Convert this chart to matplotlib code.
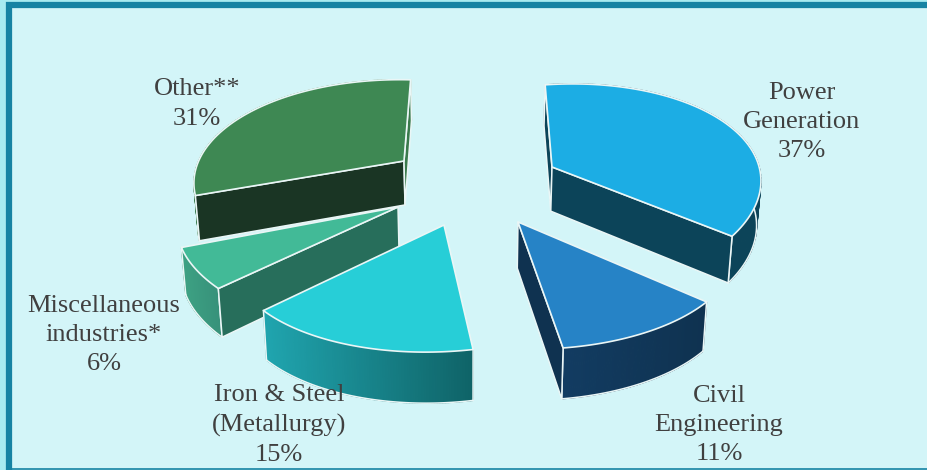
import matplotlib
matplotlib.use("Agg")
import matplotlib.pyplot as plt
from matplotlib.colors import to_rgb
from matplotlib.patches import Polygon, Rectangle
import numpy as np

# clockwise from 12 o'clock
labels = ["Power\nGeneration\n37%", "Civil\nEngineering\n11%", "Iron & Steel\n(Metallurgy)\n15%",
          "Miscellaneous\nindustries*\n6%", "Other**\n31%"]
shares = [37, 11, 15, 6, 31]

top_colors = ["#1CADE4", "#2683C6", "#27CED7", "#42BA97", "#3E8853"]
start_colors = ["#0C4459", "#0F3250", "#10656A", "#276E5B", "#1A3524"]
end_colors = ["#0C4459", "#0F3250", "#10656A", "#276E5B", "#3A7A4C"]
arc_left = ["#0C4459", "#123C62", "#20A5AF", "#3DA183", "#3A7A4C"]
arc_right = ["#0C4459", "#0F3250", "#0F6367", "#37917A", "#3A7A4C"]

# per wedge layout, pixels: apex, scale, extra x scale, y tilt, x shear
apex = [(552, 167), (518, 222), (444, 225), (398, 207), (404, 161)]
scale = [1.02, 1.0, 1.0, 1.02, 1.0]
x_scale = [0.955, 1.02, 1.0, 1.03, 0.98]
tilt = [-0.065, 0.0, -0.033, 0.0, 0.025]
shear = [0.0, 0.0, -0.12, 0.0, -0.17]
text_pos = [(802, 122), (719, 425), (279, 425), (104, 335), (197, 104)]

EDGE = "#EAF6F6"
BG = "#D3F5F8"
FRAME = "#1683A3"


def project(t, i):
    # perspective of the unit circle, front of the pie looks bigger
    x, y = np.sin(t), np.cos(t)
    w = 1 + 0.222 * y
    sx = (207 * x - 8.6 * y) / w
    sy = -99 * y / w
    sx2 = sx + shear[i] * sy
    sy2 = sy + tilt[i] * sx
    return np.c_[apex[i][0] + scale[i] * x_scale[i] * sx2, apex[i][1] + scale[i] * sy2]


def drop(p):
    # extrude down, a little inward
    p = np.atleast_2d(p)
    return np.c_[p[:, 0] + (470 - p[:, 0]) * 0.015, p[:, 1] + 38 + 0.037 * p[:, 1]]


def faces_viewer(a, p, mid):
    # a side shows only if its outward normal points down the screen
    d = p - a
    n = np.array([d[1], -d[0]])
    if n @ (mid - a) > 0:
        n = -n
    return n[1] > 0


fig = plt.figure(figsize=(9.28, 4.70), dpi=100, facecolor="#A8EBF0")
ax = fig.add_axes([0, 0, 1, 1])
ax.set_xlim(0, 928)
ax.set_ylim(470, 0)
ax.axis("off")

ax.add_patch(Rectangle((9, 5), 940, 480, fc=BG, ec=FRAME, lw=4.5, zorder=0))
ax.plot([12, 928], [469, 469], color=FRAME, lw=1.2, zorder=1)

edges = np.cumsum([0] + shares) / sum(shares) * 2 * np.pi
draw_order = [4, 0, 3, 1, 2]
for n, i in enumerate(draw_order):
    z = 2 + n * 10
    t = np.linspace(edges[i], edges[i + 1], 90)
    arc = project(t, i)
    low = drop(arc)
    a = np.array(apex[i], dtype=float)
    a_low = drop(a)[0]

    # outer wall as thin strips so it can carry a gradient
    xmin, xmax = arc[:, 0].min(), arc[:, 0].max()
    c0, c1 = np.array(to_rgb(arc_left[i])), np.array(to_rgb(arc_right[i]))
    for j in range(len(t) - 1):
        f = (arc[j, 0] - xmin) / (xmax - xmin)
        col = c0 + (c1 - c0) * f
        ax.add_patch(Polygon([arc[j], arc[j + 1], low[j + 1], low[j]], closed=True, fc=col,
                             ec=col, lw=0.9, zorder=z))
    ax.plot(low[:, 0], low[:, 1], color=EDGE, lw=1.1, zorder=z + 1)
    for j in (0, -1):
        ax.plot([arc[j, 0], low[j, 0]], [arc[j, 1], low[j, 1]], color=EDGE, lw=1.1, zorder=z + 1)

    # radial sides
    mid = arc[len(arc) // 2]
    for j, col in ((0, start_colors[i]), (-1, end_colors[i])):
        if faces_viewer(a, arc[j], mid):
            ax.add_patch(Polygon([a, arc[j], low[j], a_low], closed=True, fc=col,
                                 ec=EDGE, lw=1.1, zorder=z + 2, joinstyle="round"))

    # top face
    ax.add_patch(Polygon(np.vstack([a, arc]), closed=True, fc=top_colors[i], ec=EDGE,
                         lw=1.2, zorder=z + 3, joinstyle="round"))

for lab, (x, y) in zip(labels, text_pos):
    ax.text(x, y, lab, ha="center", va="center", family="Liberation Serif", fontsize=19,
            color="#404040", linespacing=1.43, zorder=100)

plt.savefig("out.png", dpi=100, facecolor=fig.get_facecolor())
plt.close()
